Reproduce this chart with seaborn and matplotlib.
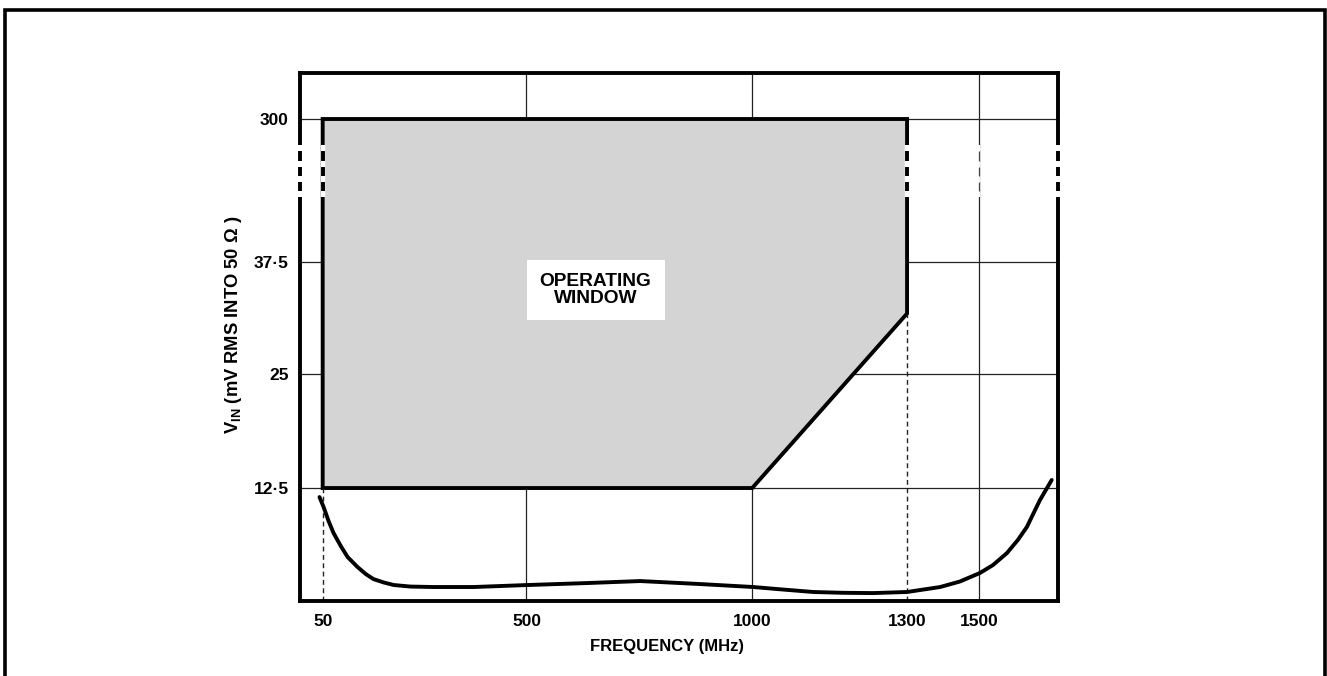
import numpy as np
import matplotlib
matplotlib.use("Agg")
import matplotlib.pyplot as plt
from matplotlib.patches import Rectangle
import seaborn as sns

# axis ticks (the drawing is schematic, the axes are not to scale)
FREQ_TICKS = [50, 500, 1000, 1300, 1500]
FREQ_LABELS = ["50", "500", "1000", "1300", "1500"]
FREQ_GRID = [500, 1000, 1500]
VIN_TICKS = [12.5, 25, 37.5, 300]
VIN_LABELS = ["12·5", "25", "37·5", "300"]

# operating window outline (MHz, mV)
WINDOW_FREQ = [50, 50, 1300, 1300, 1000]
WINDOW_VIN = [12.5, 300, 300, 31.75, 12.5]

# typical sensitivity curve
CURVE_FREQ = [43, 52, 63, 74, 90, 105, 127, 145, 162, 185, 207, 244, 295,
              383, 502, 635, 752, 884, 1002, 1060, 1118, 1176, 1234, 1300,
              1392, 1447, 1502, 1531, 1562, 1586, 1606, 1635, 1661]
CURVE_VIN = [11.5, 10.4, 8.85, 7.52, 6.08, 4.87, 3.76, 2.99, 2.43, 2.05, 1.77,
             1.6, 1.55, 1.55, 1.77, 1.99, 2.21, 1.88, 1.55, 1.27, 1.0, 0.91,
             0.88, 1.0, 1.55, 2.16, 3.1, 3.98, 5.31, 6.75, 8.19, 11.17, 13.38]

# where the ticks sit along each axis
X_KNOTS_F = [-1e4, 50, 500, 1000, 1300, 1500, 1e4]
X_KNOTS_P = [-4234, 322, 526, 752, 907, 979, 4822]
Y_KNOTS_V = [-1e4, 12.5, 25, 37.5, 300, 1e5]
Y_KNOTS_P = [-90400, 113, 227, 339, 482, 46344]


def x_fwd(v):
    return np.interp(v, X_KNOTS_F, X_KNOTS_P)


def x_inv(p):
    return np.interp(p, X_KNOTS_P, X_KNOTS_F)


def y_fwd(v):
    return np.interp(v, Y_KNOTS_V, Y_KNOTS_P)


def y_inv(p):
    return np.interp(p, Y_KNOTS_P, Y_KNOTS_V)


sns.set_theme(style="white")
plt.rcParams['font.family'] = ['Liberation Sans', 'DejaVu Sans']
plt.rcParams['font.weight'] = 'bold'
plt.rcParams['text.color'] = 'black'
plt.rcParams['axes.labelcolor'] = 'black'
plt.rcParams['mathtext.fontset'] = 'custom'
plt.rcParams['mathtext.rm'] = 'Liberation Sans:bold'
plt.rcParams['mathtext.bf'] = 'Liberation Sans:bold'

fig = plt.figure(figsize=(13.27, 6.76), dpi=100)
ax = fig.add_axes([0.2261, 0.1109, 0.5712, 0.7811])

# outer frame round the whole figure
fig.patches.append(Rectangle((5 / 1327, -0.05), 1320 / 1327, 1.05 - 10 / 676,
                             transform=fig.transFigure, fill=False,
                             lw=2.6, ec='black'))

# grid behind the window
for v in VIN_TICKS:
    ax.axhline(v, color='#222222', lw=0.9, zorder=1)
for f in FREQ_GRID:
    ax.axvline(f, color='#222222', lw=0.9, zorder=1)

# operating window
ax.fill(WINDOW_FREQ, WINDOW_VIN, facecolor='#d4d4d4', edgecolor='black',
        lw=2.8, joinstyle='miter', zorder=2)

# drop lines from the window corners
ax.vlines([WINDOW_FREQ[0], WINDOW_FREQ[3]], 0, [WINDOW_VIN[0], WINDOW_VIN[3]],
          colors='#222222', lw=1.0, linestyles=(0, (3.5, 2.5)), zorder=2.5)

# curve
sns.lineplot(x=CURVE_FREQ, y=CURVE_VIN, ax=ax, color='black', lw=2.8,
             sort=False, zorder=4)

ax.set_xscale('function', functions=(x_fwd, x_inv))
ax.set_yscale('function', functions=(y_fwd, y_inv))
ax.set_xlim(0, 1675)
ax.set_ylim(0, 400)

ax.set_xticks(FREQ_TICKS)
ax.set_xticklabels(FREQ_LABELS)
ax.set_yticks(VIN_TICKS)
ax.set_yticklabels(VIN_LABELS)
ax.minorticks_off()
ax.tick_params(axis='x', length=0, pad=9.5, labelsize=12.5, labelcolor='black')
ax.tick_params(axis='y', length=0, pad=8, labelsize=12.5, labelcolor='black')
for lab in ax.get_xticklabels() + ax.get_yticklabels():
    lab.set_fontweight('bold')

for s in ax.spines.values():
    s.set_linewidth(2.8)
    s.set_color('black')

# axis break near the top: white gap with three short dashes
trans = ax.get_xaxis_transform()
brk_lo, brk_hi = 0.765, 0.864
dashes = [(0.833, 0.852), (0.805, 0.822), (0.777, 0.794)]
break_lines = [(0, 3.2, 2.8), (50, 3.2, 2.8), (1300, 3.2, 2.8),
               (1500, 1.6, 0.9), (1675, 3.2, 2.8)]
for x, w_white, w in break_lines:
    ax.plot([x, x], [brk_lo, brk_hi], transform=trans, color='white',
            lw=w_white, solid_capstyle='butt', clip_on=False, zorder=6)
    col = '#444444' if w < 1.5 else 'black'
    for d0, d1 in dashes:
        ax.plot([x, x], [d0, d1], transform=trans, color=col, lw=w,
                solid_capstyle='butt', clip_on=False, zorder=7)

ax.text(0.39, 0.589, "OPERATING\nWINDOW", transform=ax.transAxes,
        ha='center', va='center', fontsize=13.8, fontweight='bold',
        linespacing=0.95, zorder=8,
        bbox=dict(boxstyle='square,pad=0.68', fc='white', ec='none'))

ax.set_xlabel("FREQUENCY (MHz)", fontsize=12, fontweight='bold')
ax.set_ylabel(r"V$_{\mathbf{IN}}$ (mV RMS INTO 50 Ω )", fontsize=13.2,
              fontweight='bold')
ax.xaxis.set_label_coords(0.484, -0.072)
ax.yaxis.set_label_coords(-0.074, 0.523)

fig.savefig("out.png", dpi=100)
